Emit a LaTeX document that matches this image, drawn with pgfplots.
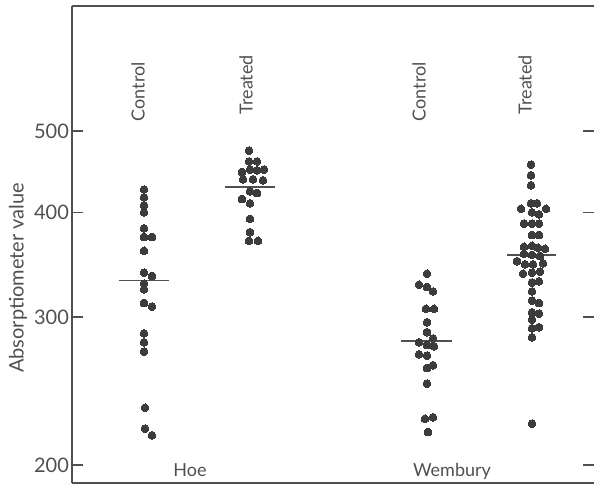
\documentclass[border=0pt]{standalone}
\usepackage{fontspec}
\setmainfont{Lato}
\usepackage{pgfplots}
\pgfplotsset{compat=1.18}
\definecolor{ink}{HTML}{505050}
\definecolor{dot}{HTML}{3C3C3C}

% x values are positions across the figure, y values are absorptiometer readings
\pgfplotstableread{
x y
144 426
144 417
144 408
144 400
144 383
144 374
152 374
144 360
144 339
152 336
144 329
144 324
144 312
152 309
144 287
144 280
144 273
145 234
145 221
152 217
}\hoecontrol

\pgfplotstableread{
x y
249 474
249 460
257 460
242 447
250 450
257 449
264 450
243 438
253 438
263 437
250 424
257 422
242 415
250 410
250 393
250 379
249 370
258 370
}\hoetreated

\pgfplotstableread{
x y
427 338
419 328
427 326
433 322
426 307
434 307
427 296
427 288
433 283
419 280
427 278
434 277
419 271
427 270
433 263
427 261
427 250
425 227
433 228
428 219
}\wemcontrol

\pgfplotstableread{
x y
531 456
531 443
531 431
531 410
537 410
521 404
546 404
532 400
539 398
524 388
532 388
539 388
532 376
539 376
524 364
532 365
538 363
545 362
524 357
532 356
540 355
517 350
525 347
533 347
543 348
523 338
532 339
540 340
532 330
539 331
532 322
532 314
539 312
532 304
539 303
532 298
532 291
539 292
532 284
532 224
}\wemtreated

\begin{document}
\begin{tikzpicture}
% right-hand ticks only, no spine
\begin{axis}[
  scale only axis, width=261pt, height=238.5pt,
  xmin=72, xmax=594,
  ymode=log, ymin=190.4, ymax=705,
  xtick=\empty, ytick={200,300,400,500}, yminorticks=false,
  tick align=inside, major tick length=5.5pt,
  tick style={ink, line width=0.8pt},
  axis x line=none, axis y line*=right,
  y axis line style={draw=none},
  yticklabels={},
]
\addplot[draw=none, forget plot] coordinates {(100,300)};
\end{axis}

\begin{axis}[
  scale only axis, width=261pt, height=238.5pt,
  xmin=72, xmax=594,
  ymode=log, ymin=190.4, ymax=705,
  xtick=\empty, ytick={200,300,400,500}, yminorticks=false,
  tick align=inside, major tick length=5.5pt,
  tick style={ink, line width=0.8pt},
  axis x line*=box, axis y line*=left,
  axis line style={ink, line width=0.8pt},
  x axis line style={line width=0.6pt},
  yticklabels={200,300,400,500},
  yticklabel style={xshift=2pt, font=\fontsize{10}{12}\selectfont, text=ink},
  ylabel={Absorptiometer value},
  every axis y label/.style={at={(rel axis cs:0,0.43)}, rotate=90, anchor=center,
    yshift=27pt, font=\fontsize{10}{12}\selectfont, text=ink},
  clip=false,
]
\addplot[only marks, mark=*, mark size=1.95pt, mark options={fill=dot, draw=dot, line width=0pt}] table {\hoecontrol};
\addplot[only marks, mark=*, mark size=1.95pt, mark options={fill=dot, draw=dot, line width=0pt}] table {\hoetreated};
\addplot[only marks, mark=*, mark size=1.95pt, mark options={fill=dot, draw=dot, line width=0pt}] table {\wemcontrol};
\addplot[only marks, mark=*, mark size=1.95pt, mark options={fill=dot, draw=dot, line width=0pt}] table {\wemtreated};

% medians
\addplot[sharp plot, no marks, ink, line width=0.7pt] coordinates {(119,332) (169,332)};
\addplot[sharp plot, no marks, ink, line width=0.7pt] coordinates {(225,429) (275,429)};
\addplot[sharp plot, no marks, ink, line width=0.7pt] coordinates {(401,281) (452,281)};
\addplot[sharp plot, no marks, ink, line width=0.7pt] coordinates {(507,356) (556,356)};

\begin{scope}[every node/.style={text=ink, font=\fontsize{9}{11}\selectfont, inner sep=0pt}]
\node[rotate=90, anchor=west] at (axis cs:138,513) {Control};
\node[rotate=90, anchor=west] at (axis cs:246,523) {Treated};
\node[rotate=90, anchor=west] at (axis cs:419,513) {Control};
\node[rotate=90, anchor=west] at (axis cs:525,523) {Treated};
\node[anchor=base] at (axis cs:190,194) {Hoe};
\node[anchor=base] at (axis cs:452,194) {Wembury};
\end{scope}
\end{axis}
\pgfresetboundingbox
\path[use as bounding box] (current axis.south west) ++(-36pt,-0.5pt) rectangle ([yshift=3pt]current axis.north east);
\end{tikzpicture}
\end{document}
